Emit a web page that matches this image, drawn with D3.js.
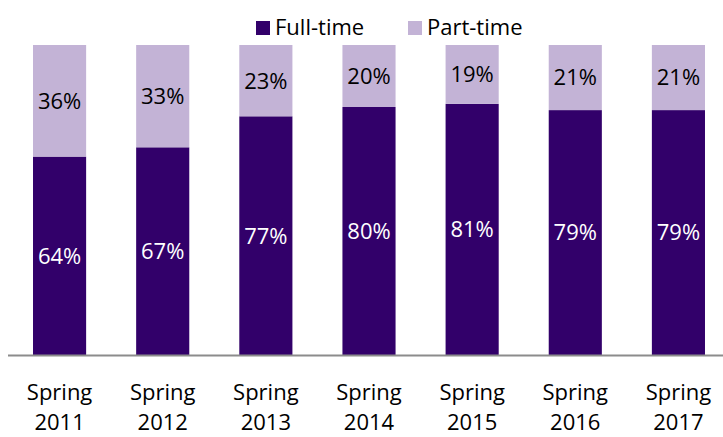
<!DOCTYPE html>
<html>
<head>
<meta charset="utf-8">
<script src="https://cdn.jsdelivr.net/npm/d3@7"></script>
<style>
  body { margin: 0; background: #fff; }
  svg text { font-family: "Open Sans", "Noto Sans", sans-serif; }
</style>
</head>
<body>
<svg id="chart" width="723" height="437"></svg>
<script>
var years = ["2011", "2012", "2013", "2014", "2015", "2016", "2017"];
var fullTime = [64, 67, 77, 80, 81, 79, 79];
var partTime = [36, 33, 23, 20, 19, 21, 21];
var seriesNames = ["Full-time", "Part-time"];

var colors = ["#32006a", "#c3b3d6"];

var svg = d3.select("#chart");

var baseline = 355;
var plotTop = 45;

var rows = years.map(function(y, i) {
    return { year: y, full: fullTime[i], part: partTime[i] };
});

var stack = d3.stack().keys(["full", "part"]);
var layers = stack(rows);

var xScale = d3.scaleBand()
    .domain(years)
    .range([8, 730])
    .paddingInner(0.485)
    .paddingOuter(0.2425);

var yScale = d3.scaleLinear()
    .domain([0, 100])
    .range([baseline, plotTop]);

// bars
var groups = svg.selectAll("g.layer")
    .data(layers)
    .enter()
    .append("g")
    .attr("class", "layer")
    .style("fill", function(d, i) { return colors[i]; });

groups.selectAll("rect")
    .data(function(d) { return d; })
    .enter()
    .append("rect")
    .attr("x", function(d) { return xScale(d.data.year); })
    .attr("y", function(d) { return yScale(d[1]); })
    .attr("width", xScale.bandwidth())
    .attr("height", function(d) { return yScale(d[0]) - yScale(d[1]); });

// value labels
groups.selectAll("text")
    .data(function(d) { return d; })
    .enter()
    .append("text")
    .attr("x", function(d) { return xScale(d.data.year) + xScale.bandwidth() / 2; })
    .attr("y", function(d) { return (yScale(d[0]) + yScale(d[1])) / 2; })
    .attr("dy", "0.36em")
    .attr("text-anchor", "middle")
    .style("font-size", "22px")
    .style("fill", function(d) { return this.parentNode.__data__.key === "full" ? "#fff" : "#000"; })
    .text(function(d) { return (d[1] - d[0]) + "%"; });

// axis line
svg.append("line")
    .attr("x1", 8)
    .attr("x2", 723)
    .attr("y1", baseline + 0.5)
    .attr("y2", baseline + 0.5)
    .style("stroke", "#8c8c8c")
    .style("stroke-width", 2);

// category labels
var cat = svg.selectAll("text.cat")
    .data(years)
    .enter()
    .append("text")
    .attr("class", "cat")
    .attr("text-anchor", "middle")
    .style("font-size", "22px")
    .style("fill", "#000");
cat.append("tspan")
    .attr("x", function(d) { return xScale(d) + xScale.bandwidth() / 2; })
    .attr("y", 400)
    .text("Spring");
cat.append("tspan")
    .attr("x", function(d) { return xScale(d) + xScale.bandwidth() / 2; })
    .attr("y", 430)
    .text(function(d) { return d; });

// legend
var legendX = [256, 408];
var legend = svg.selectAll("g.legend")
    .data(seriesNames)
    .enter()
    .append("g")
    .attr("class", "legend")
    .attr("transform", function(d, i) { return "translate(" + legendX[i] + ",21)"; });
legend.append("rect")
    .attr("width", 14)
    .attr("height", 14)
    .style("fill", function(d, i) { return colors[i]; });
legend.append("text")
    .attr("x", 19)
    .attr("y", 14)
    .style("font-size", "22px")
    .style("fill", "#000")
    .text(function(d) { return d; });
</script>
</body>
</html>
